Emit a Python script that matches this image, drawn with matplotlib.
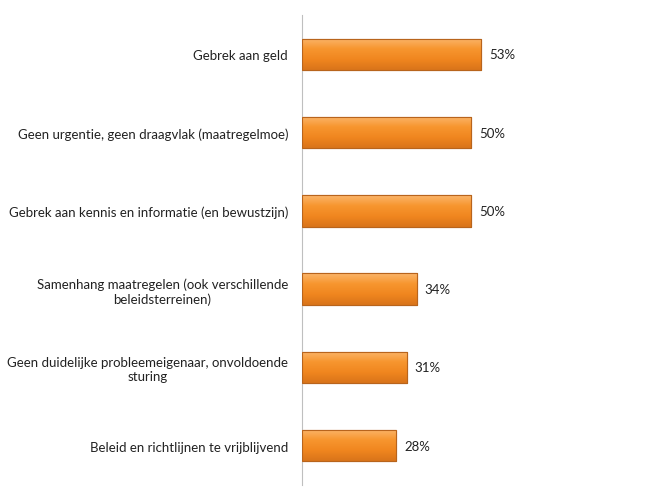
import matplotlib.pyplot as plt
import numpy as np
from matplotlib.colors import LinearSegmentedColormap

categories = [
    "Gebrek aan geld",
    "Geen urgentie, geen draagvlak (maatregelmoe)",
    "Gebrek aan kennis en informatie (en bewustzijn)",
    "Samenhang maatregelen (ook verschillende\nbeleidsterreinen)",
    "Geen duidelijke probleemeigenaar, onvoldoende\nsturing",
    "Beleid en richtlijnen te vrijblijvend",
]
values = [53, 50, 50, 34, 31, 28]

plt.rcParams['font.family'] = ['Lato', 'DejaVu Sans']

fig = plt.figure(figsize=(6.49, 5.02), dpi=100)
ax = fig.add_axes([0.4653, 0.032, 0.52, 0.936])

y = np.arange(len(categories))
bars = ax.barh(y, values, height=0.4, color='#F59234', edgecolor='#B8641C', linewidth=0.8, zorder=2)
ax.set_ylim(len(categories) - 0.5, -0.5)
ax.set_xlim(0, 100)

# orange gradient inside each bar, lighter on top
cmap = LinearSegmentedColormap.from_list('bar', ['#FBB56A', '#F7962F', '#F0861F', '#D9741A'])
grad = np.linspace(0, 1, 64).reshape(-1, 1)
for b in bars:
    x0, y0 = b.get_x(), b.get_y()
    w, h = b.get_width(), b.get_height()
    im = ax.imshow(grad, cmap=cmap, aspect='auto', extent=[x0, x0 + w, y0 + h, y0],
                   origin='upper', zorder=3)
    im.set_clip_path(b)
    ax.add_patch(plt.Rectangle((x0, y0), w, h, fill=False, edgecolor='#B8641C', linewidth=0.8, zorder=4))

ax.set_ylim(len(categories) - 0.5, -0.5)
ax.set_xlim(0, 100)

for yi, v in zip(y, values):
    ax.text(v + 2.4, yi, f"{v}%", va='center', ha='left', fontsize=9.5, color='#222222')

ax.set_yticks(y)
ax.set_yticklabels(categories, fontsize=9.5, color='#222222', multialignment='center')
ax.tick_params(axis='y', length=0, pad=10)
ax.set_xticks([])
for side in ['top', 'right', 'bottom']:
    ax.spines[side].set_visible(False)
ax.spines['left'].set_color('#BFBFBF')

fig.savefig('out.png', dpi=100)
